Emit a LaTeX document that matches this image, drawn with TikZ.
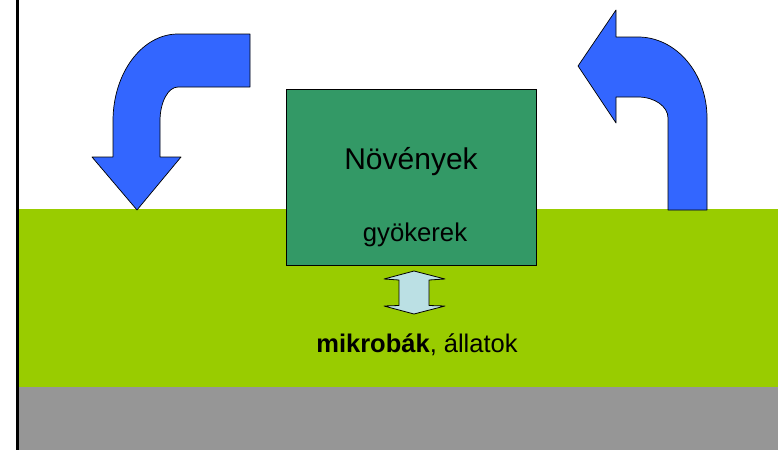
\documentclass[tikz,border=0pt]{standalone}
\usepackage{fontspec}
\setmainfont{Liberation Sans}
\definecolor{talaj}{RGB}{153,204,0}
\definecolor{alapkozet}{RGB}{150,150,150}
\definecolor{noveny}{RGB}{51,153,102}
\definecolor{nyil}{RGB}{51,102,255}
\definecolor{csere}{RGB}{187,224,228}
\tikzset{
  korfolyam/.style={fill=nyil,draw=black,line width=0.7pt,line join=round},
  doboz/.style={draw=black,line width=0.8pt,fill=noveny,inner sep=0pt}
}

\begin{document}
\begin{tikzpicture}[x=1pt,y=-1pt]
  \useasboundingbox (0,0) rectangle (778,450);
  \fill[white] (0,0) rectangle (778,450);
  % talajretegek
  \fill[talaj] (18,209) rectangle (778,387);
  \fill[alapkozet] (18,387) rectangle (778,450);
  \draw[line width=2.5pt] (17.5,0) -- (17.5,450);

  \node[doboz,minimum width=250pt,minimum height=176pt] (noveny) at (411,177) {};
  \node (nov) at (411,162) {\fontsize{30}{36}\selectfont Növények};
  \node (gyok) at (415,235) {\fontsize{25.7}{31}\selectfont gyökerek};
  \node (elo) at (417,345) {\fontsize{25.5}{31}\selectfont\textbf{mikrobák}, állatok};

  % lefele es felfele ivelo nyilak
  \draw[korfolyam] (250,34) -- (178,34)
    arc[start angle=-90,end angle=-180,x radius=65,y radius=87]
    -- (113,157) -- (92,157) -- (137,210) -- (181,157) -- (160,157) -- (160,121)
    arc[start angle=180,end angle=270,x radius=18,y radius=34]
    -- (250,87) -- cycle;
  \draw[korfolyam] (707,210) -- (707,118)
    arc[start angle=0,end angle=-90,x radius=69,y radius=81]
    -- (616,37) -- (616,10) -- (578,66) -- (616,123) -- (616,97) -- (638,97)
    arc[start angle=-90,end angle=0,x radius=30,y radius=21]
    -- (668,210) -- cycle;

  % gyoker es talajelet kozti csere
  \draw[fill=csere,line width=0.8pt,line join=round] (414,271) -- (445,279) -- (429,280) -- (429,305.5)
    -- (445,306) -- (414,314) -- (384,306) -- (399,305.5) -- (399,280) -- (384,279) -- cycle;
\end{tikzpicture}
\end{document}
